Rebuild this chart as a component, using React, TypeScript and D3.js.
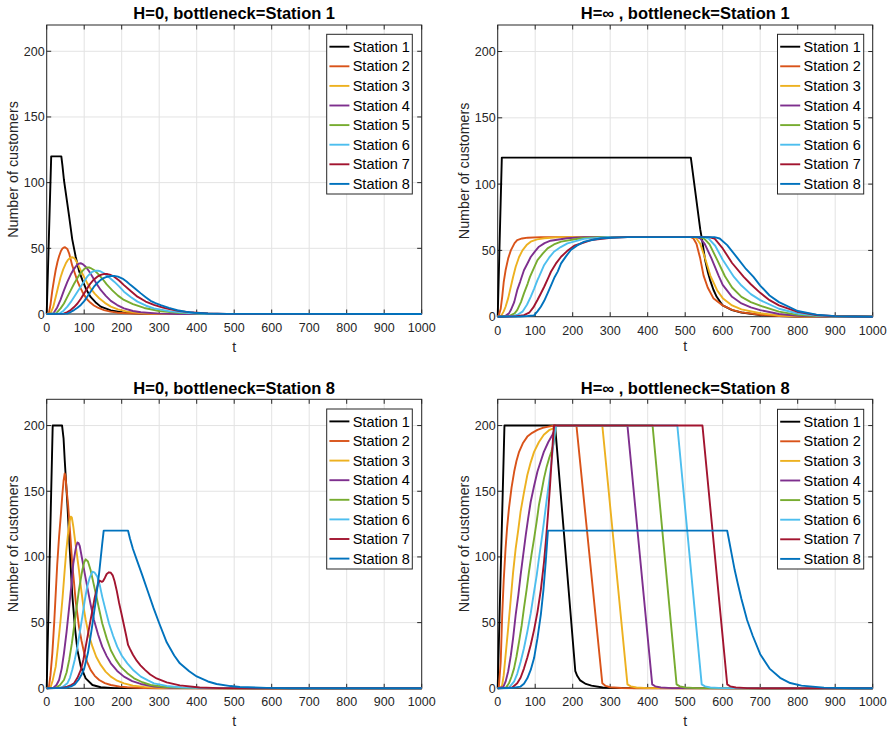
import React from "react";
import * as d3 from "d3";

const STATIONS = ["Station 1", "Station 2", "Station 3", "Station 4", "Station 5", "Station 6", "Station 7", "Station 8"];
const COLORS = ["#000000", "#D95319", "#EDB120", "#7E2F8E", "#77AC30", "#4DBEEE", "#A2142F", "#0072BD"];
const T_TICKS = [0, 100, 200, 300, 400, 500, 600, 700, 800, 900, 1000];
const Y_TICKS = [0, 50, 100, 150, 200];
const TITLES = ["H=0, bottleneck=Station 1", "H=\u221E , bottleneck=Station 1", "H=0, bottleneck=Station 8", "H=\u221E , bottleneck=Station 8"];

// Panel 1: H=0, bottleneck = Station 1
const H0_B1: number[][][] = [
  [[0,0],[12,120],[39,120],[42,113],[46,102],[55,84],[60,74],[68,57],[77,44],[86,33],[95,26],[105,19],[117,13],[130,9],[144,5.6],[171,2.8],[206,1],[260,0.3],[330,0],[1000,0]],
  [[0,0],[6,1],[10,7],[15,18],[20,27],[24,33.5],[29,40],[33,44],[38,48],[42,49.8],[46,50.6],[49,50.8],[55,49.5],[60,46],[64,41.5],[68,37],[75,31],[82,25],[88,21],[95,17],[101,14],[108,11],[117,8.5],[126,6.5],[138,4.6],[153,3],[170,1.8],[188,1],[233,0.3],[300,0],[1000,0]],
  [[0,0],[10,0.5],[17,5],[24,13],[30,20],[37,28],[44,34],[51,38.6],[56,41],[60,42],[64,43],[68,43.2],[72,42.8],[75,42],[82,38.6],[91,33],[100,28],[108,23.5],[117,19.5],[128,15.5],[140,12],[155,8.5],[171,5.6],[190,3.5],[215,1.8],[260,0.5],[320,0],[1000,0]],
  [[0,0],[18,0.5],[28,5],[37,11],[46,18],[55,24.5],[64,30],[72,34],[80,37],[85,38.3],[89,38.6],[93,38.4],[97,37.8],[104,36],[113,32.5],[122,28.4],[133,23],[144,18.3],[157,14],[171,10],[188,6.8],[206,4.3],[230,2.3],[251,1.3],[300,0.3],[350,0],[1000,0]],
  [[0,0],[25,0.5],[37,4.3],[46,8],[55,13],[64,18],[73,23],[82,27.5],[91,31.5],[100,34.2],[104,35.1],[108,35.5],[113,35.4],[117,35],[126,33.5],[137,30.5],[148,27],[160,22.5],[175,18],[190,14],[206,10.7],[230,7.5],[260,4.6],[300,2.3],[350,0.9],[400,0.3],[450,0],[1000,0]],
  [[0,0],[35,0.5],[45,2.5],[55,5.6],[64,9],[73,13],[82,17],[91,21],[100,25],[108,28.4],[115,30.5],[120,31.8],[126,32.6],[131,33],[137,32.9],[142,32.6],[153,31],[166,28],[180,24.6],[193,21],[206,17],[224,13],[242,9.4],[265,6.3],[286,4.3],[330,2],[380,0.8],[430,0.2],[480,0],[1000,0]],
  [[0,0],[45,0.3],[55,1.5],[64,3],[73,5.3],[82,8],[91,11.6],[100,15.7],[108,19.5],[117,23.4],[126,26.3],[135,28.4],[146,30],[152,30.4],[157,30.5],[162,30.4],[168,30],[180,28.4],[193,25.5],[206,22],[224,17.5],[242,13.2],[264,9.5],[286,6.9],[310,4.8],[330,3.5],[355,2.2],[380,1.4],[430,0.5],[480,0.1],[1000,0]],
  [[0,0],[55,0.3],[64,1.5],[73,3],[82,4.8],[91,6.9],[100,9.8],[108,13.2],[117,17],[126,20.8],[135,23.6],[144,26],[153,27.5],[162,28.4],[171,28.9],[180,29],[190,28.5],[202,27],[213,24.8],[224,22],[237,19],[251,15.7],[264,12.8],[277,10],[290,8.3],[304,6.8],[326,4.7],[348,2.9],[370,1.8],[393,1],[430,0.4],[480,0.1],[1000,0]],
];

// Panel 2: H=inf, bottleneck = Station 1
const HINF_B1: number[][][] = [
  [[0,0],[11,120],[515,120],[540,66],[545,58],[553,43],[560,34],[566,28],[575,20.5],[584,15],[600,8.5],[625,5],[650,3.2],[700,1.3],[750,0.4],[800,0.1],[1000,0]],
  [[0,0],[3,1],[8,6],[12,15],[16,26],[21,35],[28,44],[35,50],[45,55.5],[52,57.8],[65,59],[80,59.6],[115,60],[515,60],[522,59],[530,55],[540,44],[549,31],[560,22],[575,14],[600,8.5],[625,5.2],[650,3.3],[700,1.5],[750,0.5],[800,0.1],[1000,0]],
  [[0,0],[10,1],[16,4],[21,7.5],[28,14],[35,22.6],[41,30],[48,37.7],[57,45],[66,50],[77,54],[88,56.6],[105,58.3],[124,59.2],[168,60],[522,60],[530,59],[540,55],[552,45],[567,31],[585,20],[600,14],[625,8.5],[650,5.5],[700,2.6],[750,0.9],[800,0.3],[850,0],[1000,0]],
  [[0,0],[20,0.5],[30,2.5],[35,5],[44,11],[52,20],[60,26.5],[64,30],[70,35],[80,40.5],[88,45],[100,49.5],[110,52.8],[125,55.5],[141,57.3],[185,59.2],[230,60],[530,60],[540,59],[552,55],[570,44],[589,31],[600,24],[625,15],[650,10],[675,7],[700,5],[750,2],[800,0.7],[850,0.2],[900,0],[1000,0]],
  [[0,0],[30,0.5],[45,2.5],[52,5],[62,11],[70,17.6],[80,25],[86,30],[97,37],[106,42.7],[120,47.5],[133,51.5],[150,54.5],[169,56.6],[222,59.2],[275,60],[538,60],[550,59],[565,54.5],[585,43],[606,30.5],[625,22],[650,15],[675,11],[700,8.3],[750,3.8],[800,1.4],[850,0.4],[900,0.1],[1000,0]],
  [[0,0],[40,0.5],[55,1.8],[66,3.8],[78,9],[88,15],[97,21],[106,27.6],[110,30],[124,39],[137,44.5],[150,49],[168,52.5],[186,55.3],[230,58.7],[293,60],[550,60],[562,59],[580,53.5],[600,43],[630,30],[650,23.5],[675,17],[700,12.5],[750,6],[800,2.4],[850,0.8],[900,0.2],[1000,0]],
  [[0,0],[50,0.3],[70,1.2],[84,3],[95,7],[106,12.6],[115,17.5],[124,22.6],[136,30],[142,33.9],[155,40],[169,45.2],[185,49.5],[204,53.5],[249,57.8],[302,59.5],[346,60],[563,60],[578,59],[600,51.5],[625,40.5],[656,30],[675,24.5],[700,18],[725,12.5],[750,8.5],[800,3.6],[850,1.3],[900,0.3],[1000,0]],
  [[0,0],[60,0.2],[80,0.5],[97,1],[106,4],[115,7.5],[124,12],[133,17.6],[142,23.5],[152,30],[160,34],[169,40.2],[182,45.5],[195,50.3],[212,53.8],[231,56.6],[275,59.2],[346,60],[578,60],[592,59],[612,54],[640,44],[662,36],[682,30],[700,23.5],[725,16],[750,11],[800,4.3],[850,1.6],[900,0.4],[950,0.1],[1000,0]],
];

// Panel 3: H=0, bottleneck = Station 8
const H0_B8: number[][][] = [
  [[0,0],[16,200],[41,200],[45,190],[48,174],[55,141],[62,103],[68,72],[75,47],[82,29],[91,16.5],[104,7.6],[122,2.5],[144,0.8],[180,0.1],[1000,0]],
  [[0,0],[6,1],[10,10],[15,26.6],[20,50],[24,72],[28,94],[33,115.5],[38,133],[42,148.5],[45,158],[48,163.5],[50,162],[53,151],[57,140],[60,128],[64,112],[68,95],[73,80],[77,67],[82,56],[86,47],[93,36],[100,26.6],[108,20],[117,14],[128,9.5],[140,6.3],[155,4],[171,2.5],[195,1.3],[215,0.8],[260,0.2],[300,0],[1000,0]],
  [[0,0],[10,0.5],[16,6],[24,16.5],[30,32],[37,52],[42,68],[48,90],[52,104],[57,118],[61,127],[64,130.7],[67,130],[71,123],[75,114],[80,103],[86,90],[91,77.4],[97,64],[104,52],[112,41],[122,31.7],[132,24],[144,17.8],[157,12.7],[171,8.9],[188,5.8],[206,3.8],[230,2],[260,1.1],[300,0.4],[350,0.1],[1000,0]],
  [[0,0],[18,0.5],[26,2.5],[33,6.3],[40,15],[46,26.6],[53,43],[60,62],[66,79],[71,95],[76,104],[79,108.5],[82,111],[85,110.5],[88,108.5],[95,97.7],[101,88],[108,77.4],[117,64],[126,52],[137,41],[148,31.7],[160,24.5],[171,19],[188,13.2],[206,8.9],[228,5.5],[251,3.3],[286,1.3],[330,0.4],[380,0.1],[1000,0]],
  [[0,0],[25,0.5],[35,2.3],[46,6.3],[53,12],[60,21.6],[67,34],[73,47],[80,62],[86,75],[95,90],[100,96],[104,98.2],[110,96.5],[117,90],[124,81],[131,72],[140,60],[148,49.5],[160,38],[171,29],[184,22],[197,16.5],[215,11.5],[233,7.6],[255,4.6],[277,2.5],[310,1.2],[360,0.4],[420,0.1],[1000,0]],
  [[0,0],[35,0.5],[45,1.5],[55,3.8],[62,8],[68,14],[75,22],[82,31.7],[88,42],[95,54.6],[101,66],[108,77.4],[115,84.5],[122,88.8],[128,88],[135,85],[142,78],[148,69.8],[157,59.5],[166,49.5],[177,40],[188,31.7],[200,25],[215,19],[232,13.5],[251,8.9],[270,6],[286,3.8],[320,1.8],[360,0.7],[420,0.2],[1000,0]],
  [[0,0],[40,0.3],[55,1.2],[65,2.5],[73,3.8],[82,8],[91,14],[98,22],[104,31.7],[110,41],[117,52],[123,61],[128,69],[133,75],[137,79.5],[141,82],[144,81.5],[147,81],[150,81.5],[155,84],[160,87],[166,88.3],[171,88],[176,86],[181,81.5],[187,74],[193,65],[200,56],[206,48],[212,40],[217,33],[222,30],[230,25.5],[240,21],[250,17.5],[262,14],[276,10.5],[293,7.5],[320,4.5],[355,2.2],[408,0.6],[460,0.1],[1000,0]],
  [[0,0],[50,0.3],[65,1.5],[75,3],[85,6.5],[93,10.5],[100,15],[110,27],[120,45],[130,65],[140,88],[148,110],[152,120],[217,120],[222,114],[230,106],[240,98],[255,86],[270,73.5],[285,61],[300,49.5],[320,35],[340,25],[355,19],[380,13],[400,9],[430,5.2],[453,3.3],[490,1.7],[515,1],[586,0.3],[650,0.05],[1000,0]],
];

// Panel 4: H=inf, bottleneck = Station 8
const HINF_B8: number[][][] = [
  [[0,0],[18,200],[153,200],[207,13],[212,9.5],[220,6],[235,3.3],[250,2],[280,0.6],[320,0.1],[1000,0]],
  [[0,0],[3,0.5],[8,20],[12,56],[16,82],[21,106.6],[25,122],[30,137],[37,153],[44,165],[50,173],[57,180],[67,186.5],[79,191.6],[92,194.5],[106,196.7],[120,198.2],[132,199],[150,200],[210,200],[279,3.8],[288,1.8],[300,0.8],[330,0.2],[370,0],[1000,0]],
  [[0,0],[8,0.5],[12,2.5],[16,10],[21,25],[28,46],[35,68.5],[41,88],[48,106.6],[55,121],[61,134.5],[70,149],[79,162.4],[88,172],[97,180],[110,187.5],[123,193],[137,196.5],[150,198],[155,200],[279,200],[346,3],[355,1.5],[370,0.6],[400,0.1],[1000,0]],
  [[0,0],[15,1],[21,5],[28,13],[35,25],[41,38],[48,56],[55,71],[61,86],[68,101.5],[75,117],[81,129],[88,142],[97,154],[106,165],[115,173],[123,180],[135,187.5],[146,193],[150,195.5],[154,200],[346,200],[412,3],[420,1.5],[435,0.6],[465,0.1],[1000,0]],
  [[0,0],[22,0.5],[30,3.8],[37,9],[43.5,15],[50,24],[57,35.5],[64,48],[70,61],[77,75],[83.5,89],[90,101.5],[97,114],[104,127],[110,139.6],[117,150],[123.5,160],[130,168],[137,175],[143,180],[148,185],[152,192],[155,200],[413,200],[477,3],[486,1.5],[500,0.6],[530,0.1],[1000,0]],
  [[0,0],[30,0.5],[43.5,5],[52,11],[61,20],[70,30.5],[79,43],[88,57],[97,73.6],[104,86],[110,99],[117,113],[123.5,127],[130,142],[137,157],[143,171],[148,185],[152,194],[156,200],[479,200],[544,3],[553,1.5],[567,0.6],[600,0.1],[1000,0]],
  [[0,0],[38,0.5],[52,3.8],[61,8],[70,15],[79,23.5],[88,33],[97,44.5],[106,58],[115,75],[123.5,96],[129,114],[134,132],[139,152],[143,170],[147,188],[150,200],[546,200],[612,3],[620,1.5],[635,0.6],[665,0.1],[1000,0]],
  [[0,0],[40,0.3],[61,1.3],[70,3.5],[79,7.6],[88,14],[97,23],[106,38],[115,56],[122,75],[128,96],[132,112],[134,120],[612,120],[616,114],[624,102],[632,90],[640,80],[650,68],[665,52],[680,40],[700,26],[725,15],[753,8],[780,4],[810,2],[870,0.5],[950,0.05],[1000,0]],
];

const FONT = "'Liberation Sans', Arial, Helvetica, sans-serif";
const INK = "#262626";

type Box = { x0: number; x1: number; y0: number; y1: number };
type PanelProps = {
  box: Box;
  title: string;
  titleY: number;
  xlabY: number;
  legend: { x: number; y: number; w: number; h: number };
  data: number[][][];
};

function Panel({ box, title, titleY, xlabY, legend, data }: PanelProps) {
  const x = d3.scaleLinear().domain([0, 1000]).range([box.x0, box.x1]);
  const y = d3.scaleLinear().domain([0, 220]).range([box.y1, box.y0]);
  const line = d3
    .line<number[]>()
    .x((d) => x(d[0]))
    .y((d) => y(d[1]))
    .curve(d3.curveLinear);
  const tl = 4.5;
  const cx = (box.x0 + box.x1) / 2;
  const cy = (box.y0 + box.y1) / 2;
  return (
    <g>
      {T_TICKS.map((t) => (
        <line key={"gx" + t} x1={x(t)} x2={x(t)} y1={box.y0} y2={box.y1} stroke="#e3e3e3" strokeWidth={1} />
      ))}
      {Y_TICKS.map((v) => (
        <line key={"gy" + v} x1={box.x0} x2={box.x1} y1={y(v)} y2={y(v)} stroke="#e3e3e3" strokeWidth={1} />
      ))}
      <rect x={box.x0} y={box.y0} width={box.x1 - box.x0} height={box.y1 - box.y0} fill="none" stroke={INK} strokeWidth={1} />
      {T_TICKS.map((t) => (
        <g key={"tx" + t}>
          <line x1={x(t)} x2={x(t)} y1={box.y1} y2={box.y1 - tl} stroke={INK} />
          <line x1={x(t)} x2={x(t)} y1={box.y0} y2={box.y0 + tl} stroke={INK} />
          <text x={x(t)} y={box.y1 + 18} textAnchor="middle" fontSize={12.5} fill={INK} fontFamily={FONT}>
            {t}
          </text>
        </g>
      ))}
      {Y_TICKS.map((v) => (
        <g key={"ty" + v}>
          <line x1={box.x0} x2={box.x0 + tl} y1={y(v)} y2={y(v)} stroke={INK} />
          <line x1={box.x1} x2={box.x1 - tl} y1={y(v)} y2={y(v)} stroke={INK} />
          <text x={box.x0 - 2} y={y(v) + 4.5} textAnchor="end" fontSize={12.5} fill={INK} fontFamily={FONT}>
            {v}
          </text>
        </g>
      ))}
      {data.map((s, i) => (
        <path key={"s" + i} d={line(s) || ""} fill="none" stroke={COLORS[i]} strokeWidth={1.9} strokeLinejoin="round" />
      ))}
      <text x={cx} y={titleY} textAnchor="middle" fontSize={16.5} fontWeight="bold" fill="#000" fontFamily={FONT}>
        {title}
      </text>
      <text x={cx} y={xlabY} textAnchor="middle" fontSize={14} fill={INK} fontFamily={FONT}>
        t
      </text>
      <text
        transform={`translate(${box.x0 - 28.4},${cy}) rotate(-90)`}
        textAnchor="middle"
        fontSize={14.3}
        fill={INK}
        fontFamily={FONT}
      >
        Number of customers
      </text>
      <rect x={legend.x} y={legend.y} width={legend.w} height={legend.h} fill="#fff" stroke={INK} strokeWidth={1} />
      {STATIONS.map((name, i) => {
        const ry = legend.y + 12.4 + i * 19.6;
        return (
          <g key={"lg" + i}>
            <line x1={legend.x + 2.7} x2={legend.x + 22.7} y1={ry} y2={ry} stroke={COLORS[i]} strokeWidth={1.9} />
            <text x={legend.x + 26} y={ry + 5.1} fontSize={14.5} fill="#000" fontFamily={FONT}>
              {name}
            </text>
          </g>
        );
      })}
    </g>
  );
}

export default function App() {
  return (
    <svg width={894} height={729} style={{ display: "block", position: "absolute", left: 0, top: 0, background: "#fff" }}>
      <rect x={0} y={0} width={894} height={729} fill="#fff" />
      <Panel
        box={{ x0: 46.7, x1: 421.7, y0: 25, y1: 314 }}
        title={TITLES[0]}
        titleY={19.3}
        xlabY={351.7}
        legend={{ x: 326.7, y: 34.3, w: 85.6, h: 159.7 }}
        data={H0_B1}
      />
      <Panel
        box={{ x0: 497.7, x1: 872.7, y0: 25, y1: 316.7 }}
        title={TITLES[1]}
        titleY={19.3}
        xlabY={351}
        legend={{ x: 777.5, y: 34.3, w: 86.2, h: 159.7 }}
        data={HINF_B1}
      />
      <Panel
        box={{ x0: 46.7, x1: 421.7, y0: 399.3, y1: 688.3 }}
        title={TITLES[2]}
        titleY={394}
        xlabY={726}
        legend={{ x: 326.7, y: 409, w: 85.6, h: 160 }}
        data={H0_B8}
      />
      <Panel
        box={{ x0: 497.7, x1: 872.7, y0: 399.3, y1: 688.3 }}
        title={TITLES[3]}
        titleY={394}
        xlabY={726}
        legend={{ x: 777.5, y: 409.3, w: 86.2, h: 159.7 }}
        data={HINF_B8}
      />
    </svg>
  );
}
